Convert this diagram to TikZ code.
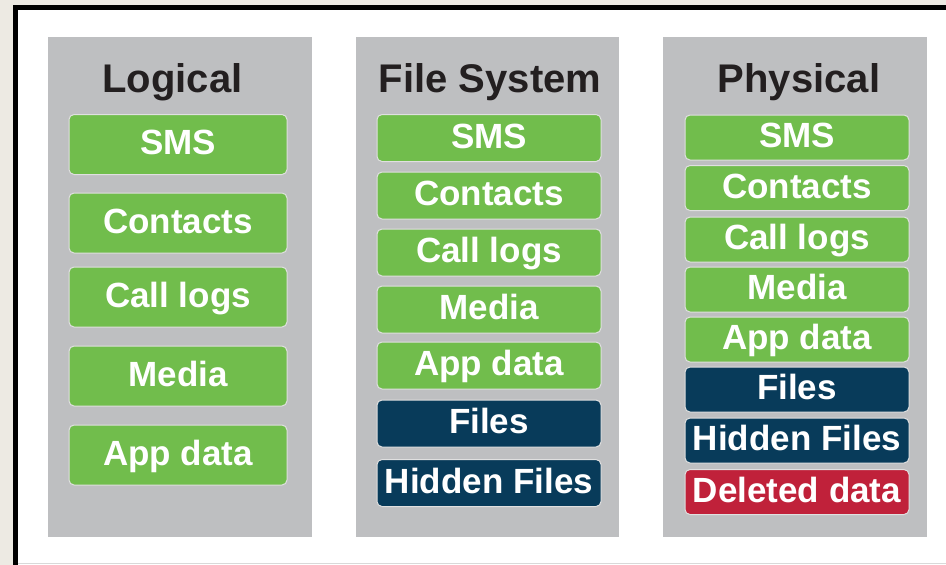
\documentclass[tikz,border=0pt]{standalone}
\usepackage{fontspec}
\setmainfont{Liberation Sans}
\usepackage{xcolor}
\usetikzlibrary{positioning}
\definecolor{pagebg}{RGB}{237,234,227}
\definecolor{panelgray}{RGB}{190,191,193}
\definecolor{itemgreen}{RGB}{113,189,76}
\definecolor{itemnavy}{RGB}{8,59,90}
\definecolor{itemred}{RGB}{192,33,58}
\definecolor{titleblack}{RGB}{35,31,32}
\tikzset{
	panel/.style={fill=panelgray, draw=none, anchor=north west, inner sep=0pt,
		minimum width=263.5pt, minimum height=500pt},
	title/.style={font=\bfseries\fontsize{40}{44}\selectfont, text=titleblack,
		inner sep=0pt, anchor=base},
	item/.style={rounded corners=5pt, draw=white!88!black, line width=1pt,
		text=white, font=\bfseries\fontsize{35}{39}\selectfont, inner sep=0pt,
		text height=24pt, text depth=4pt},
	green/.style={item, fill=itemgreen},
	navy/.style={item, fill=itemnavy},
	red/.style={item, fill=itemred},
}

\begin{document}
\begin{tikzpicture}[x=1pt, y=-1pt]
		\useasboundingbox (0,0) rectangle (946,565);
		% frame
		\fill[pagebg] (0,0) rectangle (946,565);
		\fill[black] (13,5) rectangle (946,565);
		\fill[white] (18,10) rectangle (946,565);
		\draw[gray!30, line width=0.8pt] (18,563.5) -- (946,563.5);
		% panels
		\node[panel] (logpanel) at (48,37) {};
		\node[panel] (fspanel) at (355.5,37) {};
		\node[panel] (phypanel) at (663,37) {};
		\node[title] (logtitle) at (172.5,92) {Logical};
		\node[title] (fstitle) at (490,92) {File System};
		\node[title] (phytitle) at (799,92) {Physical};
		% logical
		\foreach \txt/\yy [count=\i] in {SMS/144.5, Contacts/223, Call logs/297, Media/376, App data/455}
			\node[green, minimum width=218pt, minimum height=60pt] (log\i) at (178,\yy) {\txt};
		% file system
		\foreach \txt/\yy [count=\i] in {SMS/138, Contacts/195.5, Call logs/252.5, Media/309.5, App data/365.5}
			\node[green, minimum width=224pt, minimum height=47pt] (fs\i) at (489,\yy) {\txt};
		\node[navy, minimum width=224pt, minimum height=47pt] (fs6) at (489,423.5) {Files};
		\node[navy, minimum width=224pt, minimum height=47pt] (fs7) at (489,483) {Hidden Files};
		% physical
		\foreach \txt/\yy [count=\i] in {SMS/137.5, Contacts/188, Call logs/239.5, Media/289.5, App data/339.5}
			\node[green, minimum width=224pt, minimum height=45pt] (phy\i) at (797,\yy) {\txt};
		\node[navy, minimum width=224pt, minimum height=45pt] (phy6) at (797,389.5) {Files};
		\node[navy, minimum width=224pt, minimum height=45pt] (phy7) at (797,440.5) {Hidden Files};
		\node[red, minimum width=224pt, minimum height=45pt] (phy8) at (797,492) {Deleted data};
	\end{tikzpicture}
\end{document}
